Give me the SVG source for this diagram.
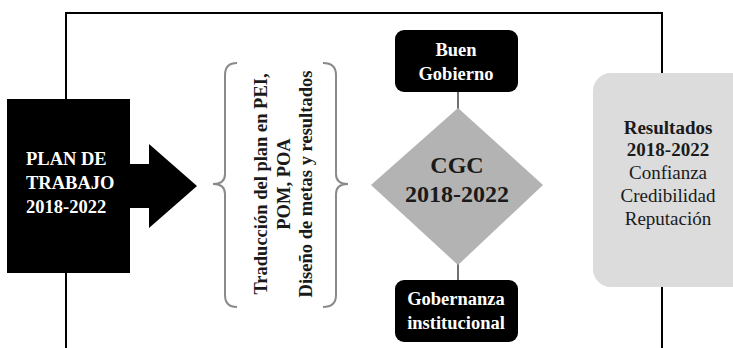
<svg xmlns="http://www.w3.org/2000/svg" width="733" height="348" viewBox="0 0 733 348">
<style>
.frame{fill:none;stroke:#000;stroke-width:2}
.conn{fill:none;stroke:#707070;stroke-width:2}
.brace{fill:none;stroke:#8a8a8a;stroke-width:2}
.t{font-family:"Liberation Serif","Times New Roman",serif;font-size:18px}
.b{font-weight:bold}
.w{fill:#fff}
.k{fill:#1a1a1a}
.c{text-anchor:middle}
</style>
<rect width="733" height="348" fill="#fff"/>
<g id="frame">
<path class="frame" d="M66,348 V13 H662 V348"/>
</g>
<g id="connectors">
<line class="conn" x1="458" y1="92" x2="458" y2="110"/>
<line class="conn" x1="458" y1="264" x2="458" y2="281"/>
</g>
<g id="plan">
<rect x="7" y="99" width="123" height="174" fill="#000"/>
<polygon points="129,164 149,164 149,144 197,186 149,228 149,208 129,208" fill="#000"/>
<text class="t b w" style="font-size:18.5px"><tspan x="26" y="165">PLAN DE</tspan><tspan x="26" y="189">TRABAJO</tspan><tspan x="26" y="213">2018-2022</tspan></text>
</g>
<g id="traduccion">
<path class="brace" d="M237,63 Q225,63 225,75 V174 Q225,184 213,184 Q225,184 225,194 V295 Q225,307 237,307"/>
<path class="brace" d="M323,63 Q336,63 336,75 V174 Q336,184 348,184 Q336,184 336,194 V295 Q336,307 323,307"/>
<text class="t b k c" style="font-size:18.5px" transform="translate(0,184) rotate(-90)"><tspan x="0" y="267">Traducción del plan en PEI,</tspan><tspan x="0" y="290">POM, POA</tspan><tspan x="0" y="312">Diseño de metas y resultados</tspan></text>
</g>
<g id="buen-gobierno">
<rect x="395" y="30" width="123" height="62" rx="9" fill="#000"/>
<text class="t b w c" style="font-size:18.5px"><tspan x="456" y="56">Buen</tspan><tspan x="456" y="80">Gobierno</tspan></text>
</g>
<g id="cgc">
<polygon points="458,108 543,185 458,265 371,185" fill="#b3b3b3"/>
<text class="t b k c" style="font-size:24px"><tspan x="457" y="173">CGC</tspan><tspan x="457" y="202">2018-2022</tspan></text>
</g>
<g id="gobernanza">
<rect x="395" y="280" width="123" height="62" rx="9" fill="#000"/>
<text class="t b w c" style="font-size:18.5px"><tspan x="456" y="305">Gobernanza</tspan><tspan x="456" y="329">institucional</tspan></text>
</g>
<g id="resultados">
<rect x="593" y="73" width="160" height="214" rx="18" fill="#dcdcdc"/>
<text class="t k c" style="font-size:19px"><tspan class="b" x="668" y="134">Resultados</tspan><tspan class="b" x="668" y="156">2018-2022</tspan><tspan x="668" y="179">Confianza</tspan><tspan x="668" y="202">Credibilidad</tspan><tspan x="668" y="225">Reputación</tspan></text>
</g>
</svg>
